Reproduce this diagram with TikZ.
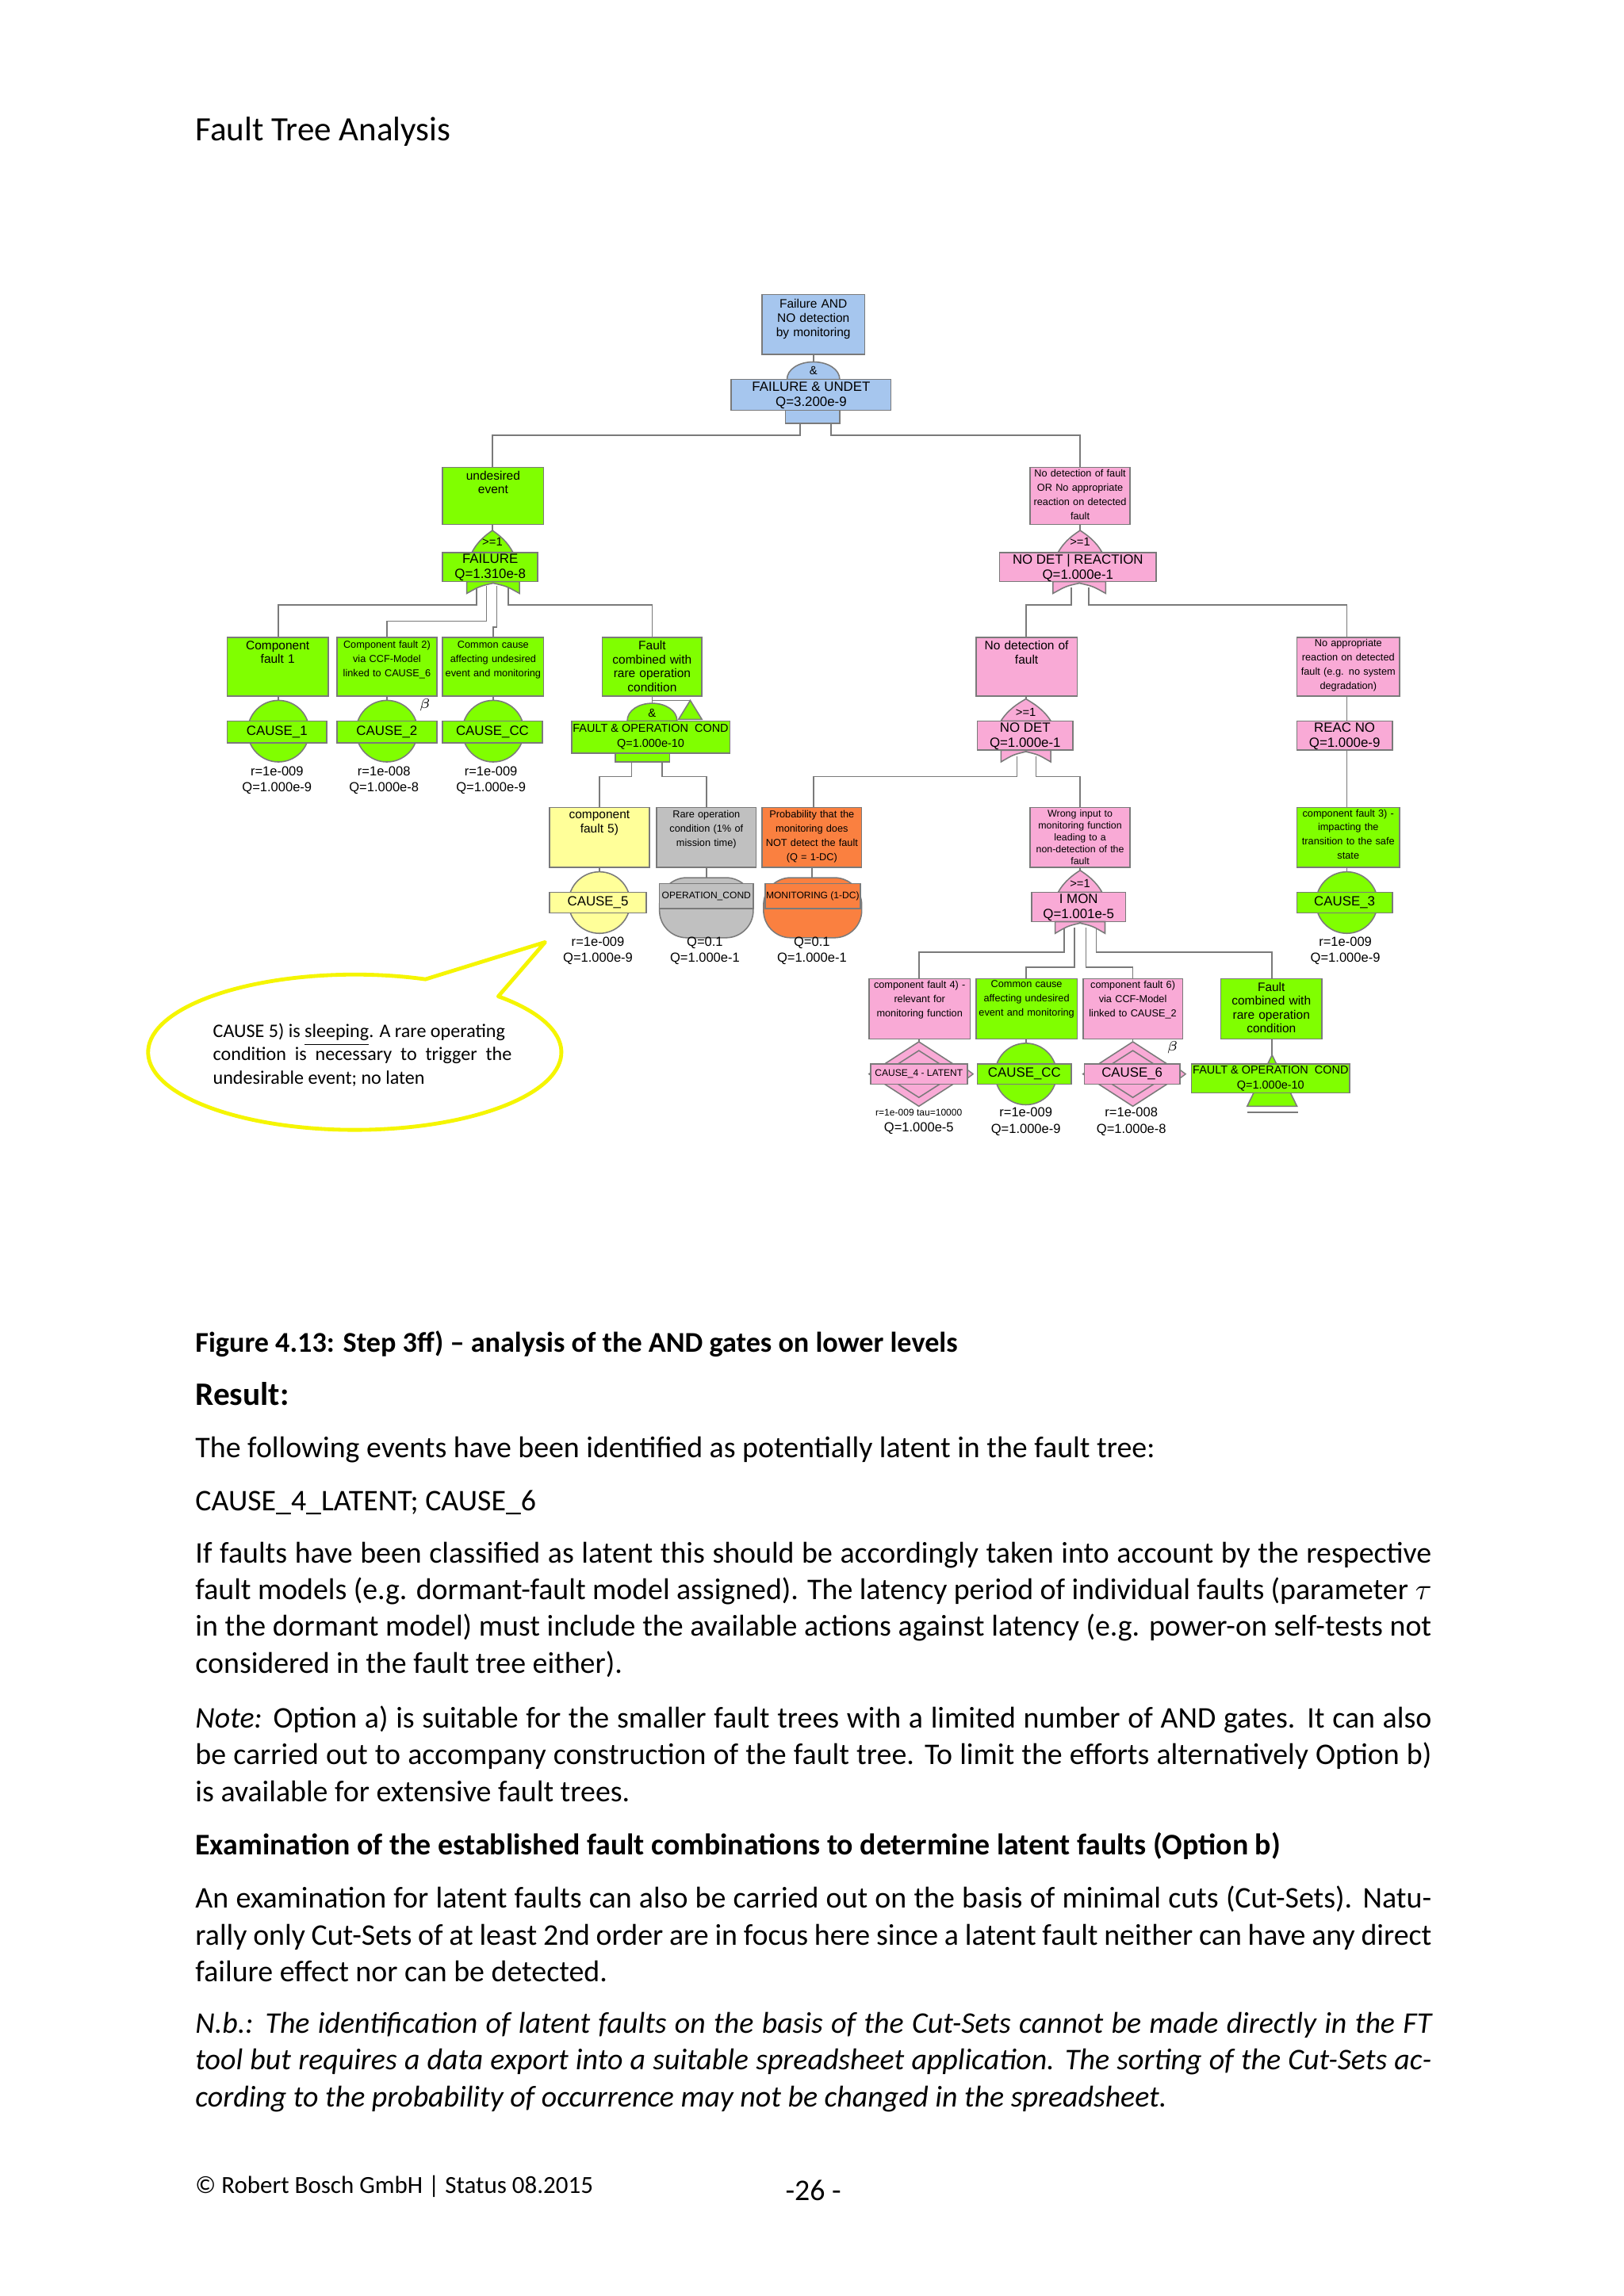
\documentclass[tikz,border=0pt]{standalone}
\usepackage{fontspec}
\setmainfont{Carlito}
\newfontfamily\dfont{Liberation Sans}
\definecolor{cblue}{HTML}{A6C6EE}
\definecolor{cgreen}{HTML}{80FF00}
\definecolor{cpink}{HTML}{F9AAD6}
\definecolor{cyel}{HTML}{FFFF99}
\definecolor{cgray}{HTML}{C0C0C0}
\definecolor{corange}{HTML}{FA8040}
\definecolor{edge}{HTML}{7A7A7A}
\definecolor{callout}{HTML}{F5F500}
\newcommand\fw{\dfont\fontsize{4.5}{5.1}\selectfont}
\newcommand\fc{\dfont\fontsize{3.7}{5.2}\selectfont}
\newcommand\fcc{\dfont\fontsize{3.5}{4.3}\selectfont}
\newcommand\fn{\dfont\fontsize{4.9}{5.5}\selectfont}
\newcommand\fq{\dfont\fontsize{4.8}{5.9}\selectfont}
\newcommand\rbox[5]{\filldraw[fill=#5,draw=edge,line width=0.45pt] (#1,#2) rectangle (#3,#4);}
\newcommand\orgate[4]{\filldraw[fill=#4,draw=edge,line width=0.45pt] (#1-#3,#2) .. controls (#1-#3*0.7,#2-8) and (#1-#3*0.3,#2-12) .. (#1,#2-15) .. controls (#1+#3*0.3,#2-12) and (#1+#3*0.7,#2-8) .. (#1+#3,#2) -- cycle;}
\newcommand\orbot[4]{\filldraw[fill=#4,draw=edge,line width=0.45pt] (#1-#3,#2) -- (#1-#3,#2+8) .. controls (#1-#3*0.5,#2+3) .. (#1,#2+1) .. controls (#1+#3*0.5,#2+3) .. (#1+#3,#2+8) -- (#1+#3,#2) -- cycle;}
\newcommand\anddome[4]{\filldraw[fill=#4,draw=edge,line width=0.45pt] (#1-#3,#2) .. controls (#1-#3,#2-7) and (#1-#3*0.55,#2-12) .. (#1,#2-12) .. controls (#1+#3*0.55,#2-12) and (#1+#3,#2-7) .. (#1+#3,#2) -- cycle;}
\newcommand\dia[3]{\filldraw[fill=#3,draw=edge,line width=0.45pt] (#1-34,#2) -- (#1,#2-22) -- (#1+34,#2) -- (#1,#2+22) -- cycle;
 \draw[edge,line width=0.45pt] (#1-25,#2) -- (#1,#2-16) -- (#1+25,#2) -- (#1,#2+16) -- cycle;}
\newcommand\evc[3]{\filldraw[fill=#3,draw=edge,line width=0.45pt] (#1,#2) circle[radius=21];}
\begin{document}
\begin{tikzpicture}[x=0.537pt,y=-0.537pt,
  ln/.style={draw=edge,line width=0.5pt},
  dt/.style={anchor=north,align=center,inner sep=0pt,text width=36pt},
  nt/.style={align=center,inner sep=0pt},
  qt/.style={align=center,inner sep=0pt,font=\fq},
  gt/.style={inner sep=0pt,font=\dfont\fontsize{4.3}{5}\selectfont},
  body/.style={anchor=north west,inner sep=0pt,text width=453pt,align=justify,font=\fontsize{11}{13.45}\selectfont}]
\fill[white] (0,0) rectangle (1108,1567);
\useasboundingbox (0,0) rectangle (1108,1567);
\node[anchor=base west,inner sep=0pt,font=\fontsize{12.5}{14}\selectfont] (hdr) at (133,96) {Fault Tree Analysis};

% ---------------- connectors
\draw[ln] (546,289) -- (546,297) -| (336,319);
\draw[ln] (567,289) -- (567,297) -| (737,319);
\draw[ln] (555,242) -- (555,247);
\draw[ln] (336,358) -- (336,362);
\draw[ln] (325,400) -- (325,413) -| (190,435);
\draw[ln] (332,400) -- (332,424) -| (264,435);
\draw[ln] (339,400) -- (339,428) -| (336.5,435);
\draw[ln] (347,400) -- (347,413) -| (445,435);
\draw[ln] (190,475) -- (190,480); \draw[ln] (264,475) -- (264,480); \draw[ln] (336.5,475) -- (336.5,480);
\draw[ln] (445,475) -- (445,480);
\draw[ln] (445,478) -- (471,478);
\draw[ln] (431,518) -- (431,530) -| (409,551);
\draw[ln] (452,518) -- (452,530) -| (482,551);
\draw[ln] (409,592) -- (409,596); \draw[ln] (482,592) -- (482,600); \draw[ln] (554,592) -- (554,600);
\draw[ln] (737,358) -- (737,362);
\draw[ln] (731,401) -- (731,413) -| (700,435);
\draw[ln] (743,401) -- (743,413) -| (919,435);
\draw[ln] (700,475) -- (700,480);
\draw[ln] (694,516) -- (694,530) -| (555,551);
\draw[ln] (707,516) -- (707,530) -| (737,551);
\draw[ln] (919,475) -- (919,596);
\draw[ln] (737,592) -- (737,596);
\draw[ln] (726,633) -- (726,650) -| (627,668);
\draw[ln] (733,633) -- (733,660) -| (700,668);
\draw[ln] (741,633) -- (741,660) -| (773,668);
\draw[ln] (748,633) -- (748,650) -| (868,668);
\draw[ln] (627,709) -- (627,712); \draw[ln] (700,709) -- (700,713); \draw[ln] (773,709) -- (773,712);
\draw[ln] (868,709) -- (868,722);

% ---------------- top
\rbox{520}{201}{590}{242}{cblue}
\node[dt,font=\fw] (d0) at (555,204) {Failure AND\\NO detection\\by monitoring};
\anddome{555}{259}{18}{cblue}
\node[gt] (g0) at (555,253) {\&};
\rbox{499}{259}{608}{280}{cblue}
\node[nt,font=\fn] (n0) at (553.5,270) {FAILURE \& UNDET\\Q=3.200e-9};
\rbox{536}{280}{573}{289}{cblue}

% ---------------- left branch
\rbox{302}{319}{371}{358}{cgreen}
\node[dt,font=\fw] (d1) at (336.5,321) {undesired\\event};
\orgate{336}{377}{14}{cgreen}
\node[gt] (g1) at (336,370) {>=1};
\rbox{302}{377}{367}{397}{cgreen}
\node[nt,font=\fn] (n1) at (334.5,387.5) {FAILURE\\Q=1.310e-8};
\orbot{336.5}{397}{18}{cgreen}

\rbox{155}{435}{224}{475}{cgreen}
\node[dt,font=\fw] (c1) at (189.5,437) {Component\\fault 1};
\rbox{230}{435}{298}{475}{cgreen}
\node[dt,font=\fc] (c2) at (264,437) {Component fault 2)\\via CCF-Model\\linked to CAUSE\_6};
\rbox{302}{435}{371}{475}{cgreen}
\node[dt,font=\fc] (ccd) at (336.5,437) {Common cause\\affecting undesired\\event and monitoring};
\rbox{411}{435}{479}{475}{cgreen}
\node[dt,font=\fw] (fd) at (445,437) {Fault\\combined with\\rare operation\\condition};

\evc{190}{499}{cgreen} \evc{264}{499}{cgreen} \evc{336.5}{499}{cgreen}
\rbox{155}{492}{223}{507}{cgreen} \node[nt,font=\fn] (e1) at (189,499.5) {CAUSE\_1};
\rbox{230}{492}{298}{507}{cgreen} \node[nt,font=\fn] (e2) at (264,499.5) {CAUSE\_2};
\rbox{302}{492}{370}{507}{cgreen} \node[nt,font=\fn] (ecc) at (336,499.5) {CAUSE\_CC};
\node[inner sep=0pt,font=\fontsize{5.5}{6}\selectfont] (b1) at (290,481) {$\beta$};
\node[qt] (q1) at (189,532.5) {r=1e-009\\Q=1.000e-9};
\node[qt] (q2) at (262,532.5) {r=1e-008\\Q=1.000e-8};
\node[qt] (q3) at (335,532.5) {r=1e-009\\Q=1.000e-9};

\anddome{445}{492}{17}{cgreen}
\node[gt] (g2) at (445,486.5) {\&};
\filldraw[fill=cgreen,draw=edge,line width=0.45pt] (463,491) -- (471,478) -- (479,491) -- cycle;
\rbox{390}{492}{498}{514}{cgreen}
\node[nt,font=\dfont\fontsize{4.2}{5.6}\selectfont] (nf) at (444,503) {FAULT \& OPERATION\ \ COND\\Q=1.000e-10};
\rbox{420}{514}{457}{520}{cgreen}

\rbox{375}{551}{443}{592}{cyel}
\node[dt,font=\fw] (y5) at (409,553) {component\\fault 5)};
\rbox{448}{551}{516}{592}{cgray}
\node[dt,font=\fc] (gd) at (482,553) {Rare operation\\condition (1\% of\\mission time)};
\rbox{520}{551}{588}{592}{corange}
\node[dt,font=\fc] (od) at (554,553) {Probability that the\\monitoring does\\NOT detect the fault\\(Q = 1-DC)};
\evc{409}{616}{cyel}
\rbox{375}{609}{441}{623}{cyel} \node[nt,font=\fn] (e5) at (408,616) {CAUSE\_5};
\filldraw[fill=cgray,draw=edge,line width=0.45pt,rounded corners=10pt] (450,599) rectangle (514,640);
\rbox{450}{603}{514}{620}{cgray} \node[nt,font=\fcc] (eo) at (482,611.5) {OPERATION\_COND};
\filldraw[fill=corange,draw=edge,line width=0.45pt,rounded corners=10pt] (521,599) rectangle (588,640);
\rbox{522}{603}{587}{620}{corange} \node[nt,font=\fcc] (em) at (554.5,611.5) {MONITORING (1-DC)};
\node[qt] (q5) at (408,649) {r=1e-009\\Q=1.000e-9};
\node[qt] (q6) at (481,649) {Q=0.1\\Q=1.000e-1};
\node[qt] (q7) at (554,649) {Q=0.1\\Q=1.000e-1};

% ---------------- right branch
\rbox{703}{319}{771}{358}{cpink}
\node[dt,font=\fc] (rd) at (737,320) {No detection of fault\\OR No appropriate\\reaction on detected\\fault};
\orgate{737}{377}{15}{cpink}
\node[gt] (g3) at (737,370) {>=1};
\rbox{682}{377}{789}{397}{cpink}
\node[nt,font=\fn] (nr) at (735.5,387.5) {NO DET | REACTION\\Q=1.000e-1};
\orbot{736.5}{397}{18}{cpink}

\rbox{666}{435}{735}{475}{cpink}
\node[dt,font=\fw] (ndd) at (700.5,437) {No detection of\\fault};
\orgate{700}{492}{17}{cpink}
\node[gt] (g4) at (700,486) {>=1};
\rbox{667}{492}{732}{512}{cpink}
\node[nt,font=\fn] (nd) at (699.5,502.5) {NO DET\\Q=1.000e-1};
\orbot{700}{512}{17}{cpink}

\rbox{885}{435}{955}{475}{cpink}
\node[dt,font=\fc] (rnd) at (920,436) {No appropriate\\reaction on detected\\fault (e.g. no system\\degradation)};
\rbox{885}{492}{950}{512}{cpink}
\node[nt,font=\fn] (rn) at (917.5,502.5) {REAC NO\\Q=1.000e-9};

\rbox{885}{551}{955}{592}{cgreen}
\node[dt,font=\fc] (c3d) at (920,552) {component fault 3) -\\impacting the\\transition to the safe\\state};
\evc{919}{616}{cgreen}
\rbox{885}{609}{950}{623}{cgreen} \node[nt,font=\fn] (e3) at (917.5,616) {CAUSE\_3};
\node[qt] (q8) at (918,649) {r=1e-009\\Q=1.000e-9};

\rbox{703}{551}{771}{592}{cpink}
\node[dt,font=\dfont\fontsize{3.6}{4.35}\selectfont] (wd) at (737,552.5) {Wrong input to\\monitoring function\\leading to a\\non-detection of the\\fault};
\orgate{737}{609}{15}{cpink}
\node[gt] (g5) at (737,603) {>=1};
\rbox{704}{609}{768}{629}{cpink}
\node[nt,font=\fn] (im) at (736,619.5) {I MON\\Q=1.001e-5};
\orbot{737}{629}{17}{cpink}

\rbox{593}{668}{662}{709}{cpink}
\node[dt,font=\fc] (p4) at (627.5,669) {component fault 4) -\\relevant for\\monitoring function};
\rbox{666}{668}{735}{709}{cgreen}
\node[dt,font=\fc] (cc2) at (700.5,669) {Common cause\\affecting undesired\\event and monitoring};
\rbox{739}{668}{807}{709}{cpink}
\node[dt,font=\fc] (p6) at (773,669) {component fault 6)\\via CCF-Model\\linked to CAUSE\_2};
\rbox{833}{668}{902}{709}{cgreen}
\node[dt,font=\fw] (f2) at (867.5,670) {Fault\\combined with\\rare operation\\condition};

\dia{627}{733}{cpink}
\filldraw[fill=cpink,draw=edge,line width=0.4pt] (660,730) -- (664,733) -- (660,736) -- cycle;
\rbox{594}{726}{660}{740}{cpink} \node[nt,font=\fcc] (e4) at (627,733) {CAUSE\_4 - LATENT};
\evc{700}{733}{cgreen}
\rbox{667}{726}{731}{740}{cgreen} \node[nt,font=\fn] (ecc2) at (699,733) {CAUSE\_CC};
\dia{773}{733}{cpink}
\filldraw[fill=cpink,draw=edge,line width=0.4pt] (805,730) -- (809,733) -- (805,736) -- cycle;
\rbox{740}{726}{805}{740}{cpink} \node[nt,font=\fn] (e6) at (772.5,733) {CAUSE\_6};
\node[inner sep=0pt,font=\fontsize{5.5}{6}\selectfont] (b2) at (800,715) {$\beta$};
\filldraw[fill=cgreen,draw=edge,line width=0.45pt] (851,755) -- (868,720) -- (885,755) -- cycle;
\rbox{813}{726}{921}{746}{cgreen}
\node[nt,font=\dfont\fontsize{4.2}{5.3}\selectfont] (nf2) at (867,736) {FAULT \& OPERATION\ \ COND\\Q=1.000e-10};
\draw[ln] (851,759) -- (886,759);
\node[qt] (q9) at (627,765.5) {{\fcc r=1e-009 tau=10000}\\Q=1.000e-5};
\node[qt] (q10) at (700,765.5) {r=1e-009\\Q=1.000e-9};
\node[qt] (q11) at (772,765.5) {r=1e-008\\Q=1.000e-8};

% ---------------- callout
\filldraw[fill=white,draw=callout,line width=1.4pt,line join=round] (372,643) -- (340,680) arc[start angle=-46,end angle=290,x radius=141,y radius=53] -- cycle;
\node[anchor=north west,inner sep=0pt,align=left,font=\fontsize{7}{8.6}\selectfont] (ct) at (145,698) {CAUSE 5) is \underline{sleeping}. A rare operating\\condition\ \ is\ \ necessary\ \ to\ \ trigger\ \ the\\undesirable event; no laten};

% ---------------- text
\node[anchor=base west,inner sep=0pt,font=\bfseries\fontsize{10.5}{12}\selectfont] (cap) at (133,923) {Figure 4.13: Step 3ff) -- analysis of the AND gates on lower levels};
\node[anchor=base west,inner sep=0pt,font=\bfseries\fontsize{12}{14}\selectfont] (res) at (133,959) {Result:};
\node[anchor=base west,inner sep=0pt,font=\fontsize{11}{13.45}\selectfont] (t1) at (133,995) {The following events have been identified as potentially latent in the fault tree:};
\node[anchor=base west,inner sep=0pt,font=\fontsize{11}{13.45}\selectfont] (t2) at (133,1031) {CAUSE\_4\_LATENT; CAUSE\_6};
\node[body] (t3) at (133,1052) {If faults have been classified as latent this should be accordingly taken into account by the respective fault models (e.g. dormant-fault model assigned). The latency period of individual faults (parameter $\tau$ in the dormant model) must include the available actions against latency (e.g. power-on self-tests not considered in the fault tree either).};
\node[body] (t4) at (133,1164) {\textit{Note:} Option a) is suitable for the smaller fault trees with a limited number of AND gates. It can also be carried out to accompany construction of the fault tree. To limit the efforts alternatively Option b) is available for extensive fault trees.};
\node[anchor=base west,inner sep=0pt,font=\bfseries\fontsize{11}{13.45}\selectfont] (h2) at (133,1266) {Examination of the established fault combinations to determine latent faults (Option b)};
\node[body] (t5) at (133,1287) {An examination for latent faults can also be carried out on the basis of minimal cuts (Cut-Sets). Natu-\linebreak rally only Cut-Sets of at least 2nd order are in focus here since a latent fault neither can have any direct failure effect nor can be detected.};
\node[body,font=\itshape\fontsize{11}{13.45}\selectfont] (t6) at (133,1373) {N.b.: The identification of latent faults on the basis of the Cut-Sets cannot be made directly in the FT tool but requires a data export into a suitable spreadsheet application. The sorting of the Cut-Sets ac-\linebreak cording to the probability of occurrence may not be changed in the spreadsheet.};
\node[anchor=base west,inner sep=0pt,font=\fontsize{9}{11}\selectfont] (ft) at (133,1497) {\textcopyright\ Robert Bosch GmbH | Status 08.2015};
\node[anchor=base,inner sep=0pt,font=\fontsize{11}{13}\selectfont] (pg) at (555,1502) {-26 -};
\end{tikzpicture}
\end{document}
